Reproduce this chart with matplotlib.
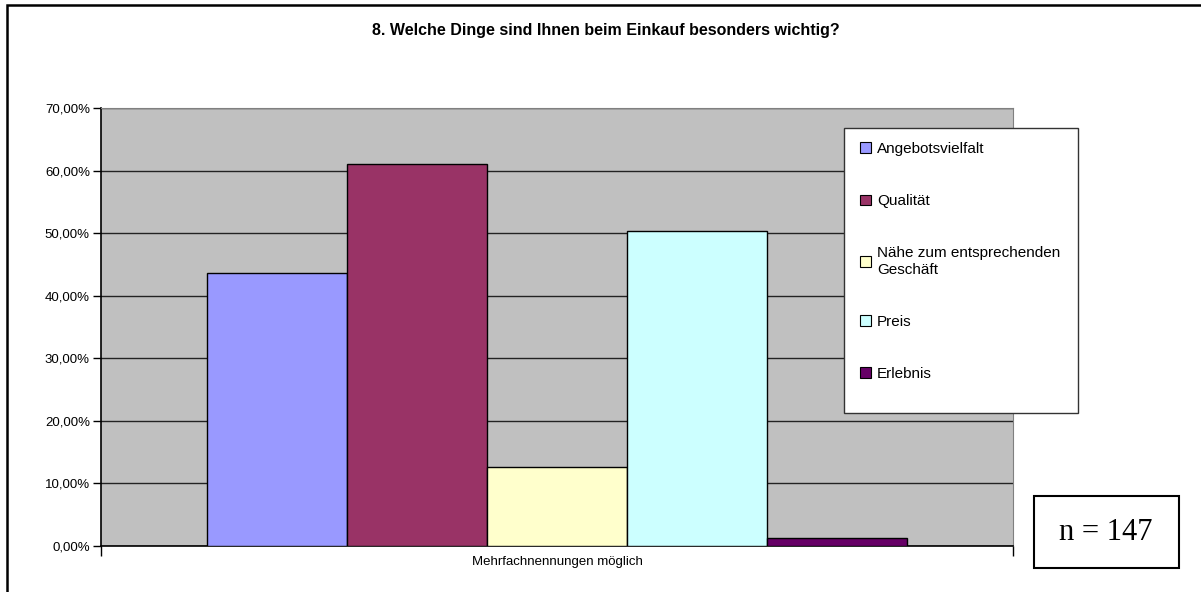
import numpy as np
import matplotlib.pyplot as plt
from matplotlib.patches import Rectangle, Patch
from matplotlib.ticker import FuncFormatter

# Datos
categorias = ['Angebotsvielfalt', 'Qualität', 'Nähe zum entsprechenden\nGeschäft', 'Preis', 'Erlebnis']
valores = [43.6, 61.0, 12.7, 50.4, 1.3]
colores = ['#9999FF', '#993366', '#FFFFCC', '#CCFFFF', '#660066']
titulo = '8. Welche Dinge sind Ihnen beim Einkauf besonders wichtig?'
etiqueta_x = 'Mehrfachnennungen möglich'
texto_n = 'n = 147'

W, H = 1201, 592
plt.rcParams['font.family'] = ['Liberation Sans', 'DejaVu Sans']

fig = plt.figure(figsize=(W / 100, H / 100), dpi=100)

def px(x0, y0, x1, y1):
    # convierte píxeles (desde arriba a la izquierda) a coordenadas de figura
    return [x0 / W, 1 - y1 / H, (x1 - x0) / W, (y1 - y0) / H]

# marco exterior
fig.patches.append(Rectangle((7 / W, -0.1), 1.2, 1 - 5 / H + 0.1, transform=fig.transFigure,
                             fill=False, edgecolor='black', linewidth=1.8))

ax = fig.add_axes(px(101, 108, 1013, 546))
ax.set_facecolor('#C0C0C0')

ancho = 140 / 912
n = len(valores)
posiciones = (np.arange(n) - (n - 1) / 2) * ancho
for p, v, c, cat in zip(posiciones, valores, colores, categorias):
    ax.bar(p, v, width=ancho, color=c, edgecolor='black', linewidth=1, label=cat, zorder=3)

ax.set_xlim(-0.5, 0.5)
ax.set_ylim(0, 70)
ax.set_yticks(np.arange(0, 71, 10))
ax.yaxis.set_major_formatter(FuncFormatter(lambda v, pos: f'{v:.2f}%'.replace('.', ',')))
ax.grid(axis='y', color='#222222', linewidth=1, zorder=0)
ax.set_axisbelow(True)
ax.tick_params(axis='y', labelsize=9.5, length=6, width=1, pad=2, colors='black')
ax.set_xticks([-0.5, 0.5])
ax.set_xticklabels(['', ''])
ax.tick_params(axis='x', length=7, width=1, direction='out')
for s in ['top', 'right']:
    ax.spines[s].set_color('#808080')
for s in ['left', 'bottom']:
    ax.spines[s].set_color('black')
    ax.spines[s].set_linewidth(1.2)

fig.text(557 / W, 1 - 562 / H, etiqueta_x, ha='center', va='center', fontsize=9.5)
fig.text(606 / W, 1 - 30 / H, titulo, ha='center', va='center', fontsize=11.5, fontweight='bold')

# leyenda con caja propia
fig.patches.append(Rectangle((844 / W, 1 - 413 / H), 234 / W, 285 / H, transform=fig.transFigure,
                             facecolor='white', edgecolor='#333333', linewidth=1, zorder=4))
handles = [Patch(facecolor=c, edgecolor='black', linewidth=0.8) for c in colores]
leg = fig.legend(handles, categorias, loc='upper left', bbox_to_anchor=(860 / W, 1 - 142 / H),
                 fontsize=11, frameon=False, labelspacing=2.5,
                 handlelength=0.7, handleheight=0.7, handletextpad=0.4,
                 borderpad=0, borderaxespad=0)
leg.set_zorder(5)

# caja n
fig.patches.append(Rectangle((1034 / W, 1 - 568 / H), 145 / W, 72 / H, transform=fig.transFigure,
                             fill=True, facecolor='white', edgecolor='black', linewidth=1.5))
fig.text(1106 / W, 1 - 532 / H, texto_n, ha='center', va='center', fontsize=22,
         family='Liberation Serif')

fig.savefig('out.png', dpi=100)
